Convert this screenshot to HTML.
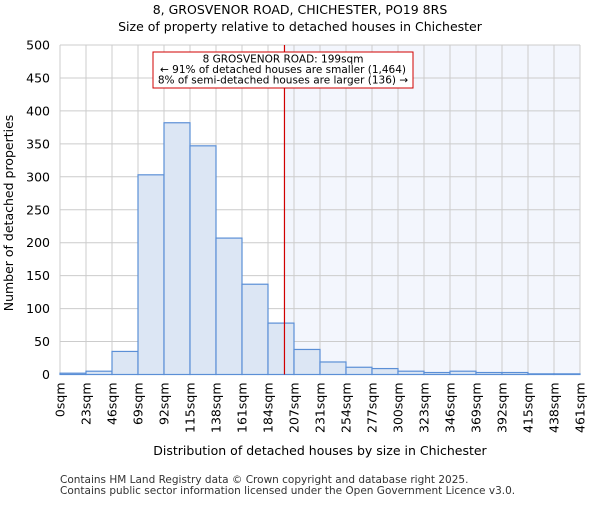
<!DOCTYPE html>
<html><head><meta charset="utf-8"><style>
body{margin:0;background:#fff;font-family:"Liberation Sans","DejaVu Sans",sans-serif;}
svg text{font-family:"DejaVu Sans","Liberation Sans",sans-serif;}
</style></head><body>
<svg id="chart" width="600" height="500" xmlns="http://www.w3.org/2000/svg">
<text x="300" y="14" text-anchor="middle" font-size="12.5">8, GROSVENOR ROAD, CHICHESTER, PO19 8RS</text>
<text x="300" y="31" text-anchor="middle" font-size="12.5">Size of property relative to detached houses in Chichester</text>
<g id="plot"></g>
<text x="320" y="455" text-anchor="middle" font-size="12.5">Distribution of detached houses by size in Chichester</text>
<text transform="translate(13,213) rotate(-90)" text-anchor="middle" font-size="12.5">Number of detached properties</text>
<text x="60" y="483" font-size="10.5" fill="#333">Contains HM Land Registry data © Crown copyright and database right 2025.</text>
<text x="60" y="494" font-size="10.5" fill="#333">Contains public sector information licensed under the Open Government Licence v3.0.</text>
</svg>
<script>
const binLabels=["0sqm","23sqm","46sqm","69sqm","92sqm","115sqm","138sqm","161sqm","184sqm","207sqm","231sqm","254sqm","277sqm","300sqm","323sqm","346sqm","369sqm","392sqm","415sqm","438sqm","461sqm"];
const counts=[2,5,35,303,382,347,207,137,78,38,19,11,9,5,3,5,3,3,1,1];
const yTicks=[0,50,100,150,200,250,300,350,400,450,500];
const markerSqm=199;
const binStart=0, binWidth=23.05;
const X0=60,X1=580,Y0=374.5,Y1=45,YMAX=500;
const NS="http://www.w3.org/2000/svg";
const g=document.getElementById('plot');
const bw=(X1-X0)/counts.length;
function xs(v){return X0+(v-binStart)/binWidth*bw;}
function ys(v){return Y0-(v/YMAX)*(Y0-Y1);}
function mk(t,a,p){const e=document.createElementNS(NS,t);for(const k in a)e.setAttribute(k,a[k]);(p||g).appendChild(e);return e;}
const mx=xs(markerSqm);
const sh=mk('rect',{x:mx,y:Y1,width:X1-mx,height:Y0-Y1,fill:'#f3f6fd'});


for(let i=0;i<=counts.length;i++){const l=mk('line',{x1:X0+i*bw,x2:X0+i*bw,y1:Y1,y2:Y0,stroke:'#cccccc','stroke-width':1});

}
yTicks.forEach(t=>{const y=ys(t);const l=mk('line',{x1:X0,x2:X1,y1:y,y2:y,stroke:'#cccccc','stroke-width':1});


const tx=mk('text',{x:X0-10,y:y+4.5,'text-anchor':'end','font-size':'12.5'});tx.textContent=t;

});
counts.forEach((c,i)=>{const r=mk('rect',{x:X0+i*bw,y:ys(c),width:bw,height:Y0-ys(c),fill:'#dce6f4',stroke:'#5b8fd6','stroke-width':1.2});

});
binLabels.forEach((s,i)=>{const x=X0+i*bw;const t=mk('text',{transform:'translate('+(x+4.5)+','+(Y0+8)+') rotate(-90)','text-anchor':'end','font-size':'12.5'});t.textContent=s;

});
const ml=mk('line',{x1:mx,x2:mx,y1:Y1,y2:Y0,stroke:'#d00000','stroke-width':1.2});


const box=mk('rect',{x:153,y:52,width:260,height:36,fill:'#fff',stroke:'#d00000','stroke-width':1});


["8 GROSVENOR ROAD: 199sqm","← 91% of detached houses are smaller (1,464)","8% of semi-detached houses are larger (136) →"].forEach((s,i)=>{const t=mk('text',{x:283,y:62.5+i*10.5,'text-anchor':'middle','font-size':'10.5'});t.textContent=s;

});
</script>
</body></html>
